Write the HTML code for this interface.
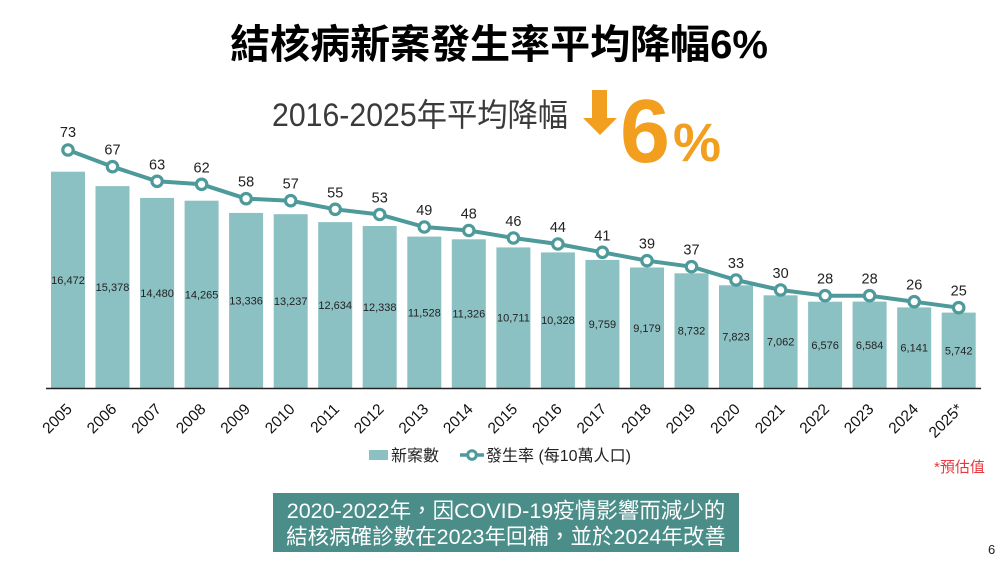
<!DOCTYPE html>
<html lang="zh-TW">
<head>
<meta charset="utf-8">
<style>
html,body{margin:0;padding:0;background:#fff;}
svg{display:block;}
</style>
</head>
<body>
<svg lang="zh-TW" width="1000" height="562" viewBox="0 0 1000 562" xmlns="http://www.w3.org/2000/svg" font-family="'Liberation Sans','Noto Sans CJK TC',sans-serif">
<rect width="1000" height="562" fill="#fff"/>
<!-- Title -->
<text x="499" y="58" text-anchor="middle" font-size="40" font-weight="bold" fill="#000" font-family="'Liberation Sans','Noto Sans CJK TC',sans-serif">結核病新案發生率平均降幅6%</text>
<!-- Subtitle -->
<text x="272" y="126" font-size="32" fill="#3a3a3a" textLength="296" lengthAdjust="spacingAndGlyphs" font-family="'Liberation Sans','Noto Sans CJK TC',sans-serif">2016-2025年平均降幅</text>
<polygon points="592,90 607,90 607,118 617,118 600,135 583,118 592,118" fill="#f29f1f"/>
<text x="620" y="162" font-size="90" font-weight="bold" fill="#f29f1f">6</text>
<text x="673" y="161" font-size="54" font-weight="bold" fill="#f29f1f">%</text>

<!-- Bars -->
<g fill="#8cc1c3">
<rect x="51.0" y="171.7" width="34" height="216.3"/>
<rect x="95.5" y="186.1" width="34" height="201.9"/>
<rect x="140.1" y="197.9" width="34" height="190.1"/>
<rect x="184.6" y="200.7" width="34" height="187.3"/>
<rect x="229.1" y="212.9" width="34" height="175.1"/>
<rect x="273.7" y="214.2" width="34" height="173.8"/>
<rect x="318.2" y="222.1" width="34" height="165.9"/>
<rect x="362.7" y="226.0" width="34" height="162.0"/>
<rect x="407.3" y="236.6" width="34" height="151.4"/>
<rect x="451.8" y="239.3" width="34" height="148.7"/>
<rect x="496.4" y="247.4" width="34" height="140.6"/>
<rect x="540.9" y="252.4" width="34" height="135.6"/>
<rect x="585.4" y="259.9" width="34" height="128.1"/>
<rect x="630.0" y="267.5" width="34" height="120.5"/>
<rect x="674.5" y="273.3" width="34" height="114.7"/>
<rect x="719.0" y="285.3" width="34" height="102.7"/>
<rect x="763.6" y="295.3" width="34" height="92.7"/>
<rect x="808.1" y="301.7" width="34" height="86.3"/>
<rect x="852.6" y="301.6" width="34" height="86.4"/>
<rect x="897.2" y="307.4" width="34" height="80.6"/>
<rect x="941.7" y="312.6" width="34" height="75.4"/>
</g>

<!-- Bar value labels -->
<g font-size="11" fill="#222" text-anchor="middle">
<text x="68.0" y="283.9">16,472</text>
<text x="112.5" y="291.1">15,378</text>
<text x="157.1" y="297">14,480</text>
<text x="201.6" y="298.4">14,265</text>
<text x="246.1" y="304.5">13,336</text>
<text x="290.7" y="305.1">13,237</text>
<text x="335.2" y="309.1">12,634</text>
<text x="379.7" y="311">12,338</text>
<text x="424.3" y="316.3">11,528</text>
<text x="468.8" y="317.7">11,326</text>
<text x="513.4" y="321.7">10,711</text>
<text x="557.9" y="324.2">10,328</text>
<text x="602.4" y="328">9,759</text>
<text x="647.0" y="331.8">9,179</text>
<text x="691.5" y="334.7">8,732</text>
<text x="736.0" y="340.7">7,823</text>
<text x="780.6" y="345.7">7,062</text>
<text x="825.1" y="348.9">6,576</text>
<text x="869.6" y="348.8">6,584</text>
<text x="914.2" y="351.7">6,141</text>
<text x="958.7" y="354.3">5,742</text>
</g>

<!-- Axis -->
<line x1="46" y1="388.5" x2="981" y2="388.5" stroke="#222" stroke-width="1.5"/>

<!-- Rate line -->
<polyline fill="none" stroke="#4e9a9b" stroke-width="4" stroke-linejoin="round"
points="68.0,150 112.5,166.7 157.1,181.3 201.6,184.3 246.1,198.7 290.7,200.7 335.2,209.3 379.7,214.5 424.3,227 468.8,230.5 513.4,238 557.9,244 602.4,252.3 647.0,260.7 691.5,266.7 736.0,280 780.6,290 825.1,295.7 869.6,295.7 914.2,301.7 958.7,307.7"/>
<g fill="#fff" stroke="#4e9a9b" stroke-width="3.2">
<circle cx="68.0" cy="150" r="5.2"/>
<circle cx="112.5" cy="166.7" r="5.2"/>
<circle cx="157.1" cy="181.3" r="5.2"/>
<circle cx="201.6" cy="184.3" r="5.2"/>
<circle cx="246.1" cy="198.7" r="5.2"/>
<circle cx="290.7" cy="200.7" r="5.2"/>
<circle cx="335.2" cy="209.3" r="5.2"/>
<circle cx="379.7" cy="214.5" r="5.2"/>
<circle cx="424.3" cy="227" r="5.2"/>
<circle cx="468.8" cy="230.5" r="5.2"/>
<circle cx="513.4" cy="238" r="5.2"/>
<circle cx="557.9" cy="244" r="5.2"/>
<circle cx="602.4" cy="252.3" r="5.2"/>
<circle cx="647.0" cy="260.7" r="5.2"/>
<circle cx="691.5" cy="266.7" r="5.2"/>
<circle cx="736.0" cy="280" r="5.2"/>
<circle cx="780.6" cy="290" r="5.2"/>
<circle cx="825.1" cy="295.7" r="5.2"/>
<circle cx="869.6" cy="295.7" r="5.2"/>
<circle cx="914.2" cy="301.7" r="5.2"/>
<circle cx="958.7" cy="307.7" r="5.2"/>
</g>

<!-- Rate labels -->
<g font-size="14.5" fill="#222" text-anchor="middle">
<text x="68.0" y="137">73</text>
<text x="112.5" y="154.7">67</text>
<text x="157.1" y="169.3">63</text>
<text x="201.6" y="172.3">62</text>
<text x="246.1" y="186.7">58</text>
<text x="290.7" y="188.7">57</text>
<text x="335.2" y="197.3">55</text>
<text x="379.7" y="202.5">53</text>
<text x="424.3" y="215">49</text>
<text x="468.8" y="218.5">48</text>
<text x="513.4" y="226">46</text>
<text x="557.9" y="232">44</text>
<text x="602.4" y="240.3">41</text>
<text x="647.0" y="248.7">39</text>
<text x="691.5" y="254.7">37</text>
<text x="736.0" y="268">33</text>
<text x="780.6" y="278">30</text>
<text x="825.1" y="283.7">28</text>
<text x="869.6" y="283.7">28</text>
<text x="914.2" y="289.7">26</text>
<text x="958.7" y="295.7">25</text>
</g>

<!-- Year labels -->
<g font-size="15.5" fill="#111" text-anchor="end">
<text x="73.0" y="410" transform="rotate(-45 73.0 410)">2005</text>
<text x="117.5" y="410" transform="rotate(-45 117.5 410)">2006</text>
<text x="162.1" y="410" transform="rotate(-45 162.1 410)">2007</text>
<text x="206.6" y="410" transform="rotate(-45 206.6 410)">2008</text>
<text x="251.1" y="410" transform="rotate(-45 251.1 410)">2009</text>
<text x="295.7" y="410" transform="rotate(-45 295.7 410)">2010</text>
<text x="340.2" y="410" transform="rotate(-45 340.2 410)">2011</text>
<text x="384.7" y="410" transform="rotate(-45 384.7 410)">2012</text>
<text x="429.3" y="410" transform="rotate(-45 429.3 410)">2013</text>
<text x="473.8" y="410" transform="rotate(-45 473.8 410)">2014</text>
<text x="518.4" y="410" transform="rotate(-45 518.4 410)">2015</text>
<text x="562.9" y="410" transform="rotate(-45 562.9 410)">2016</text>
<text x="607.4" y="410" transform="rotate(-45 607.4 410)">2017</text>
<text x="652.0" y="410" transform="rotate(-45 652.0 410)">2018</text>
<text x="696.5" y="410" transform="rotate(-45 696.5 410)">2019</text>
<text x="741.0" y="410" transform="rotate(-45 741.0 410)">2020</text>
<text x="785.6" y="410" transform="rotate(-45 785.6 410)">2021</text>
<text x="830.1" y="410" transform="rotate(-45 830.1 410)">2022</text>
<text x="874.6" y="410" transform="rotate(-45 874.6 410)">2023</text>
<text x="919.2" y="410" transform="rotate(-45 919.2 410)">2024</text>
<text x="963.7" y="410" transform="rotate(-45 963.7 410)">2025*</text>
</g>

<!-- Legend -->
<rect x="369" y="450" width="19" height="10" fill="#8cc1c3"/>
<text x="391" y="461" font-size="16" fill="#222">新案數</text>
<line x1="460" y1="455" x2="484" y2="455" stroke="#4e9a9b" stroke-width="3.5"/>
<circle cx="472" cy="455" r="4.3" fill="#fff" stroke="#4e9a9b" stroke-width="3"/>
<text x="486" y="461" font-size="16" fill="#222">發生率 (每10萬人口)</text>

<text x="934" y="472" font-size="15" fill="#e8383d">*預估值</text>

<!-- Note box -->
<rect x="273" y="493" width="466" height="59" fill="#4a8d89"/>
<g font-size="21.5" fill="#fff" text-anchor="middle" font-family="'Liberation Sans','Noto Sans CJK TC',sans-serif">
<text x="506" y="518">2020-2022年，因COVID-19疫情影響而減少的</text>
<text x="506" y="544">結核病確診數在2023年回補，並於2024年改善</text>
</g>

<text x="988" y="554" font-size="13" fill="#222">6</text>
</svg>
</body>
</html>
